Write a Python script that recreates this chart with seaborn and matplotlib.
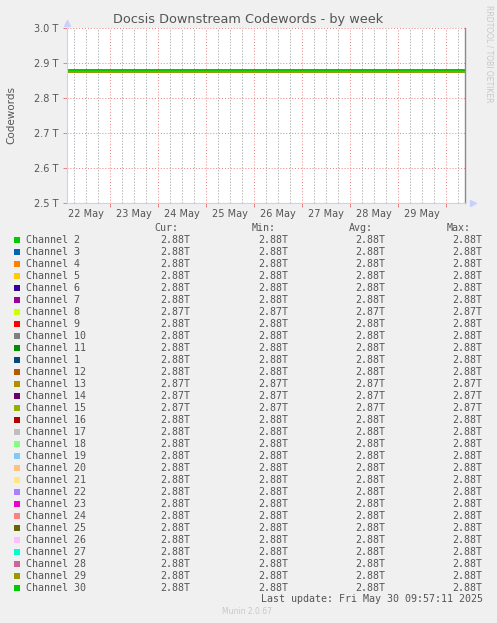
import pandas as pd
import numpy as np
import matplotlib
matplotlib.use("Agg")
import matplotlib.pyplot as plt
import matplotlib.dates as mdates
import matplotlib.ticker as mticker
from matplotlib.patches import Rectangle
import seaborn as sns

# --- data ---------------------------------------------------------------
channels = ["Channel 2", "Channel 3", "Channel 4", "Channel 5", "Channel 6",
            "Channel 7", "Channel 8", "Channel 9", "Channel 10", "Channel 11",
            "Channel 1", "Channel 12", "Channel 13", "Channel 14", "Channel 15",
            "Channel 16", "Channel 17", "Channel 18", "Channel 19", "Channel 20",
            "Channel 21", "Channel 22", "Channel 23", "Channel 24", "Channel 25",
            "Channel 26", "Channel 27", "Channel 28", "Channel 29", "Channel 30"]
colors = ["#00CC00", "#0066B3", "#FF8000", "#FFCC00", "#330099",
          "#990099", "#CCFF00", "#FF0000", "#808080", "#008F00",
          "#00487D", "#B35A00", "#B38F00", "#6B006B", "#8FB300",
          "#B30000", "#BEBEBE", "#80FF80", "#80C9FF", "#FFC080",
          "#FFE680", "#AA80FF", "#EE00CC", "#FF8080", "#666600",
          "#FFBFFF", "#00FFCC", "#CC6699", "#999900", "#00CC00"]
# codewords in T (constant over the week)
avg_vals = [2.879, 2.879, 2.879, 2.879, 2.879,
            2.879, 2.874, 2.879, 2.879, 2.879,
            2.879, 2.877, 2.873, 2.873, 2.874,
            2.879, 2.879, 2.879, 2.879, 2.879,
            2.879, 2.879, 2.879, 2.879, 2.879,
            2.879, 2.879, 2.879, 2.879, 2.879]
cur_vals = avg_vals
min_vals = avg_vals
max_vals = avg_vals

segment_starts = ["2025-05-22 02:00", "2025-05-29 11:50"]
segment_ends = ["2025-05-29 11:05", "2025-05-30 09:40"]
x_start = "2025-05-22 02:20"
x_end = "2025-05-30 09:45"
y_ticks = [2.5, 2.6, 2.7, 2.8, 2.9, 3.0]

title = "Docsis Downstream Codewords - by week"
last_update = "Last update: Fri May 30 09:57:11 2025"

rows = []
for ch, v in zip(channels, avg_vals):
    for seg, (s, e) in enumerate(zip(segment_starts, segment_ends)):
        rows.append({"channel": ch, "segment": seg, "time": pd.Timestamp(s), "value": v})
        rows.append({"channel": ch, "segment": seg, "time": pd.Timestamp(e), "value": v})
df = pd.DataFrame(rows)

# --- figure -------------------------------------------------------------
W, H = 497, 623
bg = "#F0F0F0"
txt = "#555555"
fig = plt.figure(figsize=(W / 100, H / 100), dpi=100, facecolor=bg)
ax = fig.add_axes([67 / W, 1 - 203 / H, (465 - 67) / W, (203 - 28) / H])
ax.set_facecolor("white")

sns.lineplot(data=df, x="time", y="value", hue="channel", units="segment",
             estimator=None, hue_order=channels,
             palette=dict(zip(channels, colors)), legend=False,
             linewidth=1.3, ax=ax)

ax.set_xlim(pd.Timestamp(x_start), pd.Timestamp(x_end))
ax.set_ylim(y_ticks[0], y_ticks[-1])
ax.set_yticks(y_ticks)
ax.yaxis.set_major_formatter(mticker.FuncFormatter(lambda v, p: f"{v:.1f} T"))

ax.xaxis.set_major_locator(mdates.DayLocator())
ax.xaxis.set_major_formatter(mticker.NullFormatter())
ax.xaxis.set_minor_locator(mdates.HourLocator(byhour=[6, 12, 18]))


def day_fmt(x, pos):
    d = mdates.num2date(x)
    return d.strftime("%d May") if d.hour == 12 else ""


ax.xaxis.set_minor_formatter(mticker.FuncFormatter(day_fmt))

ax.grid(which="major", color="#E88080", linestyle=(0, (1, 2)), linewidth=0.7)
ax.grid(which="minor", axis="x", color="#B8B8B8", linestyle=(0, (1.5, 1.5)), linewidth=0.7)
ax.set_axisbelow(True)

ax.tick_params(axis="y", which="major", length=3, width=0.7, color="#E88080",
               labelsize=7, labelcolor=txt, pad=3)
ax.tick_params(axis="x", which="major", length=3, width=0.7, color="#E88080")
ax.tick_params(axis="x", which="minor", length=0, labelsize=7, labelcolor=txt, pad=4)

ax.spines["top"].set_visible(False)
ax.spines["left"].set_color("#C8D0FF")
ax.spines["bottom"].set_color("#C8D0FF")
ax.spines["right"].set_color("#8A8A8A")
ax.spines["right"].set_linewidth(1.0)
ax.set_xlabel("")
ax.set_ylabel("")

# axis arrows
ax.plot([0], [1.03], marker="^", color="#C8D0FF", markersize=4, transform=ax.transAxes, clip_on=False)
ax.plot([1.02], [0], marker=">", color="#C8D0FF", markersize=4, transform=ax.transAxes, clip_on=False)

fig.text(248 / W, 1 - 19 / H, title, ha="center", va="center", fontsize=9.3, color=txt)
fig.text(11 / W, 1 - 115 / H, "Codewords", ha="center", va="center", rotation=90,
         fontsize=7.5, color=txt)
fig.text(489 / W, 1 - 5 / H, "RRDTOOL / TOBI OETIKER", ha="center", va="top",
         rotation=270, fontsize=5.5, color="#C8C8C8")

# --- legend table -------------------------------------------------------
mono = "DejaVu Sans Mono"
fs = 7.2
for hx, lab in zip([154, 252, 349, 447], ["Cur:", "Min:", "Avg:", "Max:"]):
    fig.text(hx / W, 1 - 228 / H, lab, ha="left", va="center", family=mono, fontsize=fs, color=txt)

for i, ch in enumerate(channels):
    yc = 240 + 12 * i
    fig.patches.append(Rectangle((14 / W, 1 - (yc + 3) / H), 6 / W, 6 / H,
                                 transform=fig.transFigure, facecolor=colors[i],
                                 edgecolor="none"))
    fig.text(26 / W, 1 - yc / H, ch, ha="left", va="center", family=mono, fontsize=fs, color=txt)
    for xr, vals in zip([190, 288, 385, 482], [cur_vals, min_vals, avg_vals, max_vals]):
        fig.text(xr / W, 1 - yc / H, f"{vals[i]:.2f}T", ha="right", va="center",
                 family=mono, fontsize=fs, color=txt)

fig.text(483 / W, 1 - 599 / H, last_update, ha="right", va="center", family=mono,
         fontsize=fs, color=txt)
fig.text(222 / W, 1 - 612 / H, "Munin 2.0.67", ha="left", va="center",
         fontsize=5.5, color="#C8C8C8")

fig.savefig("out.png", dpi=100, facecolor=bg)
